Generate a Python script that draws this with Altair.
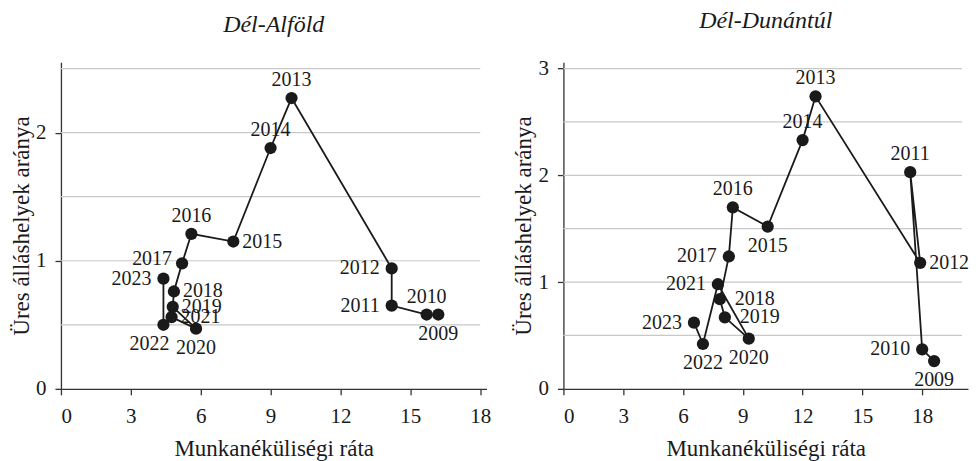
import altair as alt
import pandas as pd

FONT = "Liberation Serif"
INK = "#1a1a1a"

years = list(range(2009, 2024))

# Dél-Alföld
alfold_x = [16.2, 15.7, 14.2, 14.2, 9.9, 9.0, 7.4, 5.6, 5.2, 4.85, 4.8, 5.8, 4.75, 4.4, 4.4]
alfold_y = [0.58, 0.58, 0.65, 0.94, 2.27, 1.88, 1.15, 1.21, 0.98, 0.76, 0.64, 0.47, 0.56, 0.50, 0.86]
alfold_pos = ["below", "above", "left", "left", "above", "above", "right", "above",
              "upleft", "right", "right", "below", "right", "belowleft", "left"]

# Dél-Dunántúl
dunantul_x = [18.6, 18.0, 17.4, 17.9, 12.65, 12.0, 10.25, 8.5, 8.3, 7.85, 8.1, 9.3, 7.75, 7.0, 6.55]
dunantul_y = [0.26, 0.37, 2.03, 1.18, 2.74, 2.33, 1.52, 1.70, 1.24, 0.84, 0.67, 0.47, 0.98, 0.42, 0.62]
dunantul_pos = ["below", "left", "above", "right", "above", "above", "below", "above",
                "left", "farright", "farright", "below", "left", "below", "left"]

x_ticks = [0, 3, 6, 9, 12, 15, 18]

LABEL_STYLES = {
    "above": dict(align="center", baseline="middle", dx=0, dy=-18),
    "below": dict(align="center", baseline="middle", dx=0, dy=19),
    "left": dict(align="right", baseline="middle", dx=-12, dy=0),
    "upleft": dict(align="right", baseline="middle", dx=-10, dy=-4),
    "right": dict(align="left", baseline="middle", dx=9, dy=0),
    "farright": dict(align="left", baseline="middle", dx=15, dy=0),
    "belowleft": dict(align="center", baseline="middle", dx=-14, dy=19),
}


def panel(title, xs, ys, pos, xmax, ymax, grid_end, grid_vals, y_ticks, width, height):
    df = pd.DataFrame({"year": years, "x": xs, "y": ys, "pos": pos})
    gdf = pd.DataFrame({"y": grid_vals})
    xscale = alt.Scale(domain=[0, xmax], nice=False, zero=False)
    yscale = alt.Scale(domain=[0, ymax], nice=False, zero=False)
    xaxis = alt.Axis(values=x_ticks, title="Munkanéküliségi ráta", grid=False,
                     labelPadding=11, titleBaseline="alphabetic", titleY=67)
    yaxis = alt.Axis(values=y_ticks, title="Üres álláshelyek aránya", grid=False,
                     labelPadding=9, titlePadding=2, format="d")
    X = alt.X("x:Q", scale=xscale, axis=xaxis)
    Y = alt.Y("y:Q", scale=yscale, axis=yaxis)

    grid = alt.Chart(gdf).mark_rule(color="#c8c8c8", strokeWidth=1.2).encode(
        y=Y,
        x=alt.X(datum=0, scale=xscale, axis=xaxis),
        x2=alt.X2(datum=grid_end),
    )
    base = alt.Chart(df)
    line = base.mark_line(color=INK, strokeWidth=1.8).encode(
        x=X, y=Y, order="year:O",
    )
    pts = base.mark_circle(size=150, color=INK, opacity=1).encode(x=X, y=Y)
    texts = []
    for key, st in LABEL_STYLES.items():
        texts.append(
            base.transform_filter(alt.datum.pos == key)
            .mark_text(font=FONT, fontSize=20, color=INK, **st)
            .encode(x=X, y=Y, text="year:N")
        )
    return alt.layer(grid, line, pts, *texts).properties(
        width=width,
        height=height,
        title=alt.TitleParams(title, font=FONT, fontSize=24, fontStyle="italic",
                              fontWeight="normal", color=INK, anchor="middle", offset=25),
    )


left = panel("Dél-Alföld", alfold_x, alfold_y, alfold_pos, 18.27, 2.55, 18,
             [0.5, 1, 1.5, 2, 2.5], [0, 1, 2], 426, 327)
right = panel("Dél-Dunántúl", dunantul_x, dunantul_y, dunantul_pos, 20.3, 3.06, 20,
              [0.5, 1, 1.5, 2, 2.5, 3], [0, 1, 2, 3], 405, 327)

chart = alt.hconcat(left, right, spacing=77, bounds="flush").configure(
    padding={"left": 2, "top": 0, "right": 0, "bottom": 0},
).configure_view(stroke=None).configure_axis(
    domainColor="#333333", tickColor="#333333", domainWidth=1.3, tickWidth=1.3,
    tickSize=6, labelFont=FONT, labelFontSize=21, labelColor=INK,
    titleFont=FONT, titleFontSize=23, titleFontWeight="normal", titleColor=INK,
)

chart.save("out.html", embed_options={"renderer": "svg", "actions": False})
